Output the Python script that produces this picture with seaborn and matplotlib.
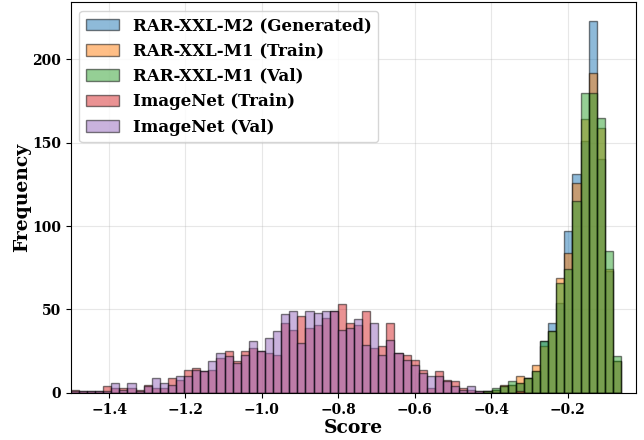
import numpy as np
import pandas as pd
import matplotlib
matplotlib.use("Agg")
import matplotlib.pyplot as plt
import seaborn as sns

# Shared bin edges for all score histograms
bin_lo, bin_hi, n_bins = -1.5, -0.06, 68

def pad(start, values):
    out = [0] * n_bins
    out[start:start + len(values)] = values
    return out

# Per-bin counts (1000 samples per set)
rar_m2_gen = pad(51, [1, 2, 4, 5, 6, 9, 13, 31, 42, 54, 97, 131, 151, 223, 140, 73, 19])
rar_m1_train = pad(51, [1, 2, 5, 5, 10, 9, 17, 28, 37, 69, 84, 126, 164, 192, 159, 74, 19])
rar_m1_val = pad(51, [1, 3, 4, 7, 6, 9, 13, 31, 37, 66, 74, 115, 180, 180, 165, 85, 22])
imagenet_train = pad(0, [2, 1, 1, 1, 4, 3, 3, 3, 2, 5, 3, 3, 9, 8, 14, 15, 13, 14, 21, 25,
                         19, 25, 27, 25, 24, 23, 42, 38, 46, 39, 41, 45, 49, 53, 42, 41, 49,
                         27, 28, 42, 24, 23, 20, 14, 3, 13, 8, 7, 3, 2, 1, 0, 0, 0, 0, 1])
imagenet_val = pad(0, [1, 1, 1, 1, 1, 6, 2, 6, 1, 4, 9, 6, 5, 10, 10, 14, 13, 19, 24, 22,
                       18, 23, 31, 25, 33, 37, 47, 49, 30, 49, 48, 49, 49, 38, 39, 44, 29,
                       42, 23, 32, 24, 20, 17, 12, 10, 10, 7, 4, 2, 4, 1])

series_names = ["RAR-XXL-M2 (Generated)", "RAR-XXL-M1 (Train)", "RAR-XXL-M1 (Val)",
                "ImageNet (Train)", "ImageNet (Val)"]
series_counts = [rar_m2_gen, rar_m1_train, rar_m1_val, imagenet_train, imagenet_val]
series_colors = ["tab:blue", "tab:orange", "tab:green", "tab:red", "tab:purple"]

edges = [float(e) for e in np.linspace(bin_lo, bin_hi, n_bins + 1)]
centers = [(a + b) / 2 for a, b in zip(edges[:-1], edges[1:])]

plt.rcParams["font.family"] = ["DejaVu Serif"]
plt.rcParams["font.weight"] = "bold"

fig, ax = plt.subplots(figsize=(6.44, 4.4), dpi=100)
fig.subplots_adjust(left=0.110, right=0.988, top=0.995, bottom=0.107)

for name, counts, color in zip(series_names, series_counts, series_colors):
    df = pd.DataFrame({"score": centers, "count": counts})
    sns.histplot(data=df, x="score", weights="count", bins=edges, color=color,
                 alpha=0.5, edgecolor=(0, 0, 0, 0.5), linewidth=1, label=name, ax=ax)

ax.set_xlim(-1.5, -0.02)
ax.set_xticks([-1.4, -1.2, -1.0, -0.8, -0.6, -0.4, -0.2])
ax.set_yticks([0, 50, 100, 150, 200])
ax.grid(True, alpha=0.3)
ax.set_axisbelow(True)
ax.set_xlabel("Score", fontsize=13.5, fontweight="bold", labelpad=2)
ax.set_ylabel("Frequency", fontsize=13.5, fontweight="bold", labelpad=1)
ax.tick_params(labelsize=10)
for lab in ax.get_xticklabels() + ax.get_yticklabels():
    lab.set_fontweight("bold")
for sp in ax.spines.values():
    sp.set_color("black")
ax.legend(loc="upper left", prop={"weight": "bold", "size": 12, "family": "DejaVu Serif"})

fig.savefig("out.png", dpi=100)
